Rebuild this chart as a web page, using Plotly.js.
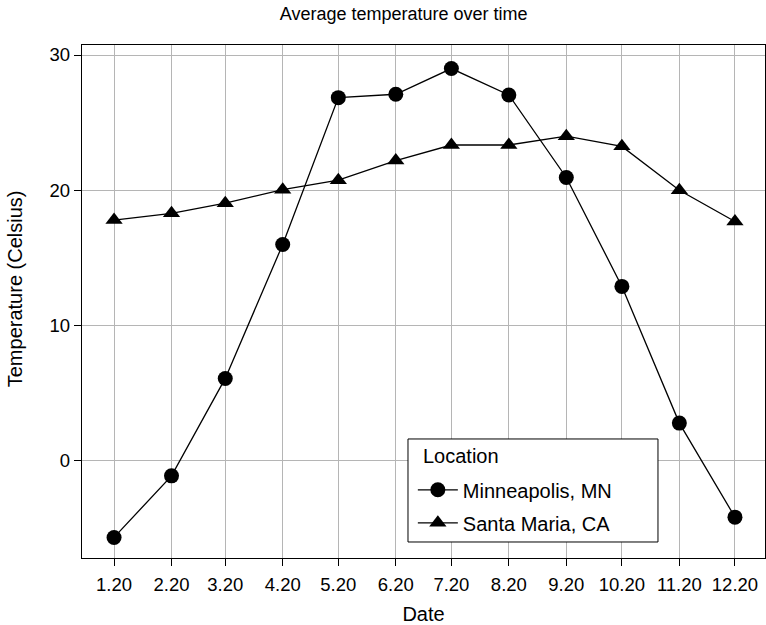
<!DOCTYPE html>
<html>
<head>
<meta charset="utf-8">
<script src="https://cdn.plot.ly/plotly-3.0.1.min.js"></script>
<style>
html,body{margin:0;padding:0;background:#fff;}
#chart{width:766px;height:625px;}
</style>
</head>
<body>
<div id="chart"></div>
<script>
const dates = ["2020-01-20","2020-02-20","2020-03-20","2020-04-20","2020-05-20","2020-06-20",
               "2020-07-20","2020-08-20","2020-09-20","2020-10-20","2020-11-20","2020-12-20"];
const tickLabels = ["1.20","2.20","3.20","4.20","5.20","6.20","7.20","8.20","9.20","10.20","11.20","12.20"];
const minneapolis = [-5.65, -1.1, 6.1, 16.0, 26.85, 27.1, 29.0, 27.05, 20.95, 12.9, 2.8, -4.15];
const santaMaria = [17.8, 18.3, 19.05, 20.05, 20.75, 22.2, 23.35, 23.35, 24.0, 23.25, 20.0, 17.7];
const seriesNames = ["Minneapolis, MN", "Santa Maria, CA"];
const legendTitle = "Location";

const FONT = "Liberation Sans, Arial, sans-serif";

const traces = [
  {
    x: dates, y: minneapolis, name: seriesNames[0], legendgroup: "a", type: "scatter", mode: "lines+markers",
    line: {color: "#000", width: 1.3},
    marker: {symbol: "circle", size: 15, color: "#000"}
  },
  {
    x: dates, y: santaMaria, name: seriesNames[1], legendgroup: "b", type: "scatter", mode: "lines+markers",
    line: {color: "#000", width: 1.3},
    marker: {symbol: "triangle-up", size: 15, color: "#000"}
  }
];

const layout = {
  width: 766, height: 625,
  margin: {l: 82, r: 1, t: 45, b: 67, pad: 0},
  paper_bgcolor: "#fff", plot_bgcolor: "#fff",
  font: {family: FONT, color: "#000", size: 18},
  title: {text: "Average temperature over time", font: {size: 18, family: FONT, color: "#000"},
          x: 0.527, xref: "container", xanchor: "center", y: 0.978, yref: "container", yanchor: "middle"},
  xaxis: {
    type: "date",
    range: ["2020-01-02 17:00", "2021-01-05 05:00"],
    tickvals: dates, ticktext: tickLabels,
    ticks: "outside", ticklen: 7, tickcolor: "#000", tickwidth: 1,
    ticklabelstandoff: 2,
    showgrid: true, gridcolor: "#b5b5b5", gridwidth: 1,
    showline: true, linecolor: "#000", linewidth: 1.3, mirror: true,
    zeroline: false,
    tickfont: {size: 18.5, family: FONT, color: "#000"},
    title: {text: "Date", font: {size: 20, family: FONT, color: "#000"}, standoff: 16}
  },
  yaxis: {
    range: [-7.17, 30.74],
    tickvals: [0, 10, 20, 30],
    ticks: "outside", ticklen: 7, tickcolor: "#000", tickwidth: 1,
    showgrid: true, gridcolor: "#b5b5b5", gridwidth: 1,
    showline: true, linecolor: "#000", linewidth: 1.3, mirror: true,
    zeroline: false,
    tickfont: {size: 18.5, family: FONT, color: "#000"}
  },
  showlegend: true,
  legend: {
    x: 0.4844, y: 0.171, xanchor: "left", yanchor: "top",
    bgcolor: "rgba(0,0,0,0)", borderwidth: 0,
    font: {size: 20, family: FONT, color: "#000"},
    tracegroupgap: 4,
    itemwidth: 40
  },
  shapes: [
    {type: "rect", xref: "paper", yref: "paper", x0: 0.4773, x1: 0.8433, y0: 0.0312, y1: 0.232,
     line: {color: "#000", width: 1}, fillcolor: "#fff", layer: "above"}
  ],
  annotations: [
    {text: legendTitle, xref: "paper", yref: "paper", x: 0.496, y: 0.1988, xanchor: "left", yanchor: "middle",
     showarrow: false, font: {size: 20, family: FONT, color: "#000"}},
    {text: "Temperature (Celsius)", xref: "paper", yref: "paper", x: -0.098, y: 0.524, xanchor: "center", yanchor: "middle",
     textangle: -90, showarrow: false, font: {size: 20, family: FONT, color: "#000"}}
  ]
};

Plotly.newPlot("chart", traces, layout, {displayModeBar: false, staticPlot: true});
</script>
</body>
</html>
